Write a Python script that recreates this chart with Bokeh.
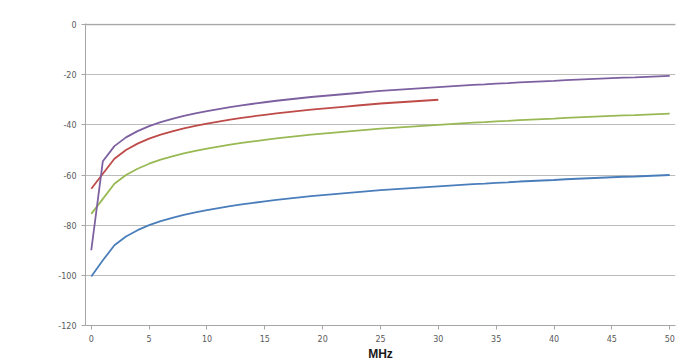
from bokeh.plotting import figure
from bokeh.models import Range1d, Label, FixedTicker, Span
from bokeh.embed import file_html
from bokeh.resources import INLINE

mhz = list(range(0, 51))
mhz_red = list(range(0, 31))

blue = [-100.5, -94.0, -88.0, -84.5, -82.0, -80.0, -78.4, -77.1, -75.9, -74.9,
        -74.0, -73.2, -72.4, -71.7, -71.1, -70.5, -69.9, -69.4, -68.9, -68.4,
        -68.0, -67.6, -67.2, -66.8, -66.4, -66.0, -65.7, -65.4, -65.1, -64.8,
        -64.5, -64.2, -63.9, -63.6, -63.4, -63.1, -62.9, -62.6, -62.4, -62.2,
        -62.0, -61.7, -61.5, -61.3, -61.1, -60.9, -60.7, -60.6, -60.4, -60.2,
        -60.0]
green = [-75.5, -69.5, -63.5, -60.0, -57.5, -55.5, -53.9, -52.6, -51.4, -50.4,
         -49.5, -48.7, -47.9, -47.2, -46.6, -46.0, -45.4, -44.9, -44.4, -43.9,
         -43.5, -43.1, -42.7, -42.3, -41.9, -41.5, -41.2, -40.9, -40.6, -40.3,
         -40.0, -39.7, -39.4, -39.1, -38.9, -38.6, -38.4, -38.1, -37.9, -37.7,
         -37.5, -37.2, -37.0, -36.8, -36.6, -36.4, -36.2, -36.1, -35.9, -35.7,
         -35.5]
purple = [-90.0, -54.5, -48.5, -45.0, -42.5, -40.5, -38.9, -37.6, -36.4, -35.4,
          -34.5, -33.7, -32.9, -32.2, -31.6, -31.0, -30.4, -29.9, -29.4, -28.9,
          -28.5, -28.1, -27.7, -27.3, -26.9, -26.5, -26.2, -25.9, -25.6, -25.3,
          -25.0, -24.7, -24.4, -24.1, -23.9, -23.6, -23.4, -23.1, -22.9, -22.7,
          -22.5, -22.2, -22.0, -21.8, -21.6, -21.4, -21.2, -21.1, -20.9, -20.7,
          -20.5]
red = [-65.5, -59.5, -53.5, -50.0, -47.5, -45.5, -43.9, -42.6, -41.4, -40.4,
       -39.5, -38.7, -37.9, -37.2, -36.6, -36.0, -35.4, -34.9, -34.4, -33.9,
       -33.5, -33.1, -32.7, -32.3, -31.9, -31.5, -31.2, -30.9, -30.6, -30.3,
       -30.0]

x_ticks = [0, 5, 10, 15, 20, 25, 30, 35, 40, 45, 50]
y_ticks = [0, -20, -40, -60, -80, -100, -120]

p = figure(frame_width=590, frame_height=302,
           min_border_left=85, min_border_right=25, min_border_top=23, min_border_bottom=39,
           x_range=Range1d(-0.5, 50.5), y_range=Range1d(-120, 0.4),
           output_backend="svg", toolbar_location=None)
p.outline_line_color = None
p.background_fill_color = "white"
p.border_fill_color = "white"

p.xgrid.grid_line_color = None
p.ygrid.grid_line_color = "#bcbcbc"
p.ygrid.grid_line_width = 1
p.add_layout(Span(location=y_ticks[0], dimension="width", line_color="#a8a8a8",
                  line_width=1.5, level="overlay"))

p.line(mhz, blue, line_color="#4A7EBB", line_width=1.8)
p.line(mhz, green, line_color="#98B954", line_width=1.8)
p.line(mhz_red, red, line_color="#BE4B48", line_width=1.8)
p.line(mhz, purple, line_color="#7D60A0", line_width=1.8)

p.xaxis.ticker = FixedTicker(ticks=x_ticks)
p.yaxis.ticker = FixedTicker(ticks=y_ticks)
p.yaxis.major_label_overrides = {t: str(t) for t in y_ticks}
for ax in (p.xaxis[0], p.yaxis[0]):
    ax.axis_line_color = "#a6a6a6"
    ax.major_tick_line_color = "#a6a6a6"
    ax.major_tick_in = 0
    ax.major_tick_out = 4
    ax.minor_tick_line_color = None
    ax.major_label_text_font = "DejaVu Sans"
    ax.major_label_text_font_size = "8px"
    ax.major_label_text_color = "#595959"
    ax.major_label_standoff = 5

p.xaxis.axis_label = "MHz"
p.xaxis.axis_label_text_font = "Liberation Sans"
p.xaxis.axis_label_text_font_style = "bold"
p.xaxis.axis_label_text_font_size = "12px"
p.xaxis.axis_label_text_color = "#1a1a1a"
p.xaxis.axis_label_standoff = 2

p.add_layout(Label(x=-3.3, y=-60, text="dBi", text_align="center", text_baseline="middle",
                   text_font="Liberation Sans", text_font_style="bold",
                   text_font_size="13px", text_color="#1a1a1a"))

open("out.html", "w").write(file_html(p, INLINE))
